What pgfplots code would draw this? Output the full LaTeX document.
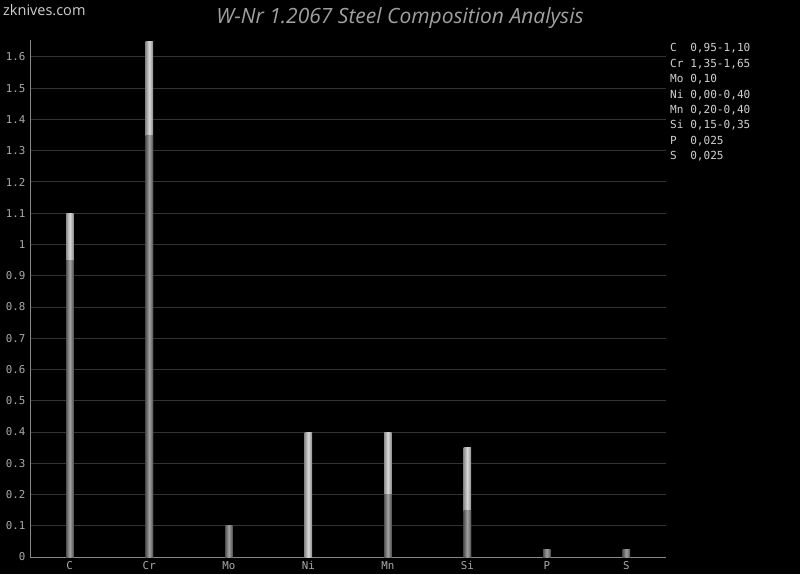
\documentclass[border=0pt]{standalone}
\usepackage{pgfplots}
\pgfplotsset{compat=1.18}
\usepackage{fontspec}
\setmainfont{Open Sans}
\newfontfamily\monofont{DejaVu Sans Mono}
\definecolor{bg}{HTML}{000000}
\definecolor{gridc}{HTML}{333333}
\definecolor{axisc}{HTML}{888888}
\definecolor{tickc}{HTML}{AAAAAA}
\definecolor{txtc}{HTML}{D0D0D0}
\definecolor{titlec}{HTML}{A0A0A0}
\pgfplotsset{
  maxbar/.style={draw=none, left color=black!45, right color=black!45, middle color=black!15},
  minbar/.style={draw=none, left color=black!68, right color=black!68, middle color=black!36},
}
\begin{document}
\begin{tikzpicture}[x=1pt,y=1pt]
\fill[bg] (0,0) rectangle (800,574);
\node[anchor=north west, text=txtc, inner sep=0pt, font=\fontsize{14.5}{16}\selectfont] at (3,570) {zknives.com};
\node[anchor=north, text=titlec, inner sep=0pt, font=\fontsize{21}{22}\selectfont\itshape] at (400,566.5) {W-Nr 1.2067 Steel Composition Analysis};
\begin{axis}[
  at={(30pt,17pt)}, anchor=south west,
  scale only axis, width=636pt, height=517pt,
  xmin=0, xmax=8, ymin=0, ymax=1.6544,
  ybar, bar width=7.5pt, bar shift=0pt,
  axis x line*=bottom, axis y line*=left,
  axis line style={axisc, line width=1pt},
  every outer x axis line/.append style={-}, every outer y axis line/.append style={-},
  xtick={0.5,1.5,...,7.5},
  xticklabels={C,Cr,Mo,Ni,Mn,Si,P,S},
  ytick={0,0.1,...,1.61},
  yticklabel style={/pgf/number format/fixed, /pgf/number format/precision=1},
  /pgf/number format/assume math mode=true,
  ymajorgrids, grid style={gridc, line width=1pt},
  major tick length=0pt,
  tick label style={text=tickc, font=\monofont\fontsize{10.8}{12}\selectfont},
  xticklabel style={yshift=-1pt},
  yticklabel style={xshift=-1pt},
  clip=false,
]
% maximum content (light)
\addplot[maxbar] coordinates {(0.5,1.10)};
\addplot[maxbar] coordinates {(1.5,1.65)};
\addplot[maxbar] coordinates {(3.5,0.40)};
\addplot[maxbar] coordinates {(4.5,0.40)};
\addplot[maxbar] coordinates {(5.5,0.35)};
% minimum content (dark)
\addplot[minbar] coordinates {(0.5,0.95)};
\addplot[minbar] coordinates {(1.5,1.35)};
\addplot[minbar] coordinates {(2.5,0.10)};
\addplot[minbar] coordinates {(4.5,0.20)};
\addplot[minbar] coordinates {(5.5,0.15)};
\addplot[minbar] coordinates {(6.5,0.025)};
\addplot[minbar] coordinates {(7.5,0.025)};
\end{axis}
\node[anchor=north west, align=left, text=txtc, inner sep=0pt, font=\monofont\fontsize{11.1}{15.4}\selectfont] at (670,530.5) {C\ \ 0,95-1,10\\Cr 1,35-1,65\\Mo 0,10\\Ni 0,00-0,40\\Mn 0,20-0,40\\Si 0,15-0,35\\P\ \ 0,025\\S\ \ 0,025};
\end{tikzpicture}
\end{document}
